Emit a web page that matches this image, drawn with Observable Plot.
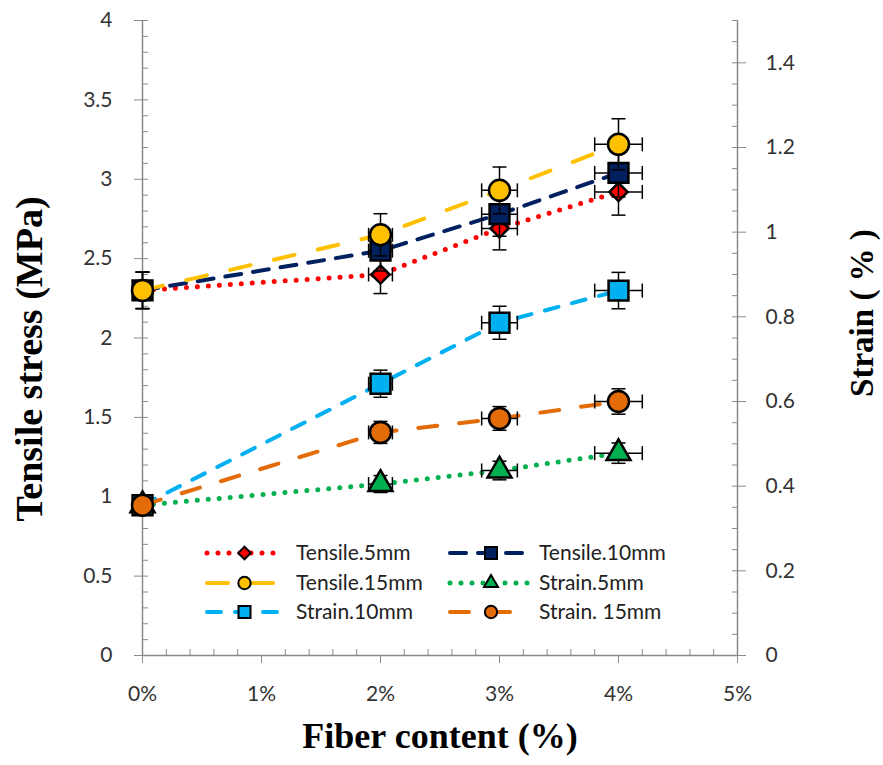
<!DOCTYPE html>
<html><head><meta charset="utf-8">
<script src="https://cdn.jsdelivr.net/npm/d3@7"></script>
<script src="https://cdn.jsdelivr.net/npm/@observablehq/plot@0.6"></script>
<style>body{margin:0;background:#fff;}</style>
</head><body><div id="chart"></div>
<script>
// ---- data ----
const fiber = [0, 2, 3, 4];               // fiber content, %
const fiberErr = [0, 0.1, 0.15, 0.2];     // horizontal error, %
const tensile5  = [2.30, 2.40, 2.69, 2.92];
const tensile10 = [2.30, 2.55, 2.78, 3.04];
const tensile15 = [2.30, 2.65, 2.93, 3.22];
const tensile5Err  = [0.115, 0.12, 0.135, 0.146];
const tensile10Err = [0.115, 0.128, 0.139, 0.152];
const tensile15Err = [0.115, 0.133, 0.147, 0.161];
const strain5  = [0.355, 0.405, 0.437, 0.478];
const strain10 = [0.355, 0.642, 0.786, 0.862];
const strain15 = [0.355, 0.527, 0.560, 0.600];
const strain5Err  = [0.018, 0.02, 0.022, 0.024];
const strain10Err = [0.018, 0.032, 0.039, 0.043];
const strain15Err = [0.018, 0.026, 0.028, 0.030];
const seriesNames = ["Tensile.5mm", "Tensile.10mm", "Tensile.15mm", "Strain.5mm", "Strain.10mm", "Strain. 15mm"];
const xTicks = [0, 1, 2, 3, 4, 5];
const xMinor = [0.2,0.4,0.6,0.8,1.2,1.4,1.6,1.8,2.2,2.4,2.6,2.8,3.2,3.4,3.6,3.8,4.2,4.4,4.6,4.8];
const yTicks = [0, 0.5, 1, 1.5, 2, 2.5, 3, 3.5, 4];
const yMinor = [0.1,0.2,0.3,0.4,0.6,0.7,0.8,0.9,1.1,1.2,1.3,1.4,1.6,1.7,1.8,1.9,2.1,2.2,2.3,2.4,2.6,2.7,2.8,2.9,3.1,3.2,3.3,3.4,3.6,3.7,3.8,3.9];
const strainTicks = [0, 0.2, 0.4, 0.6, 0.8, 1, 1.2, 1.4];
const strainMinor = [0.05,0.1,0.15,0.25,0.3,0.35,0.45,0.5,0.55,0.65,0.7,0.75,0.85,0.9,0.95,1.05,1.1,1.15,1.25,1.3,1.35,1.45,1.5];
const strainMax = 1.5, stressMax = 4;

// ---- styles ----
const styles = [
  {color: "#FF0000", dash: "0 11", width: 5, symbol: "diamond2", r: 8.2, ls: d3.symbolDiamond2, la: 100},
  {color: "#002060", dash: "16 12", width: 4, symbol: "square", r: 11.2, ls: d3.symbolSquare, la: 144},
  {color: "#FFC000", dash: "21 24", width: 4, symbol: "circle", r: 10.5, ls: d3.symbolCircle, la: 120},
  {color: "#00B050", dash: "0 11", width: 5, symbol: "triangle", r: 8.9, ls: d3.symbolTriangle, la: 85},
  {color: "#00B0F0", dash: "14 14", width: 4, symbol: "square", r: 11.2, ls: d3.symbolSquare, la: 144},
  {color: "#E36C09", dash: "19 22", width: 4, symbol: "circle", r: 10.5, ls: d3.symbolCircle, la: 120}
];

const k = stressMax / strainMax;
const seriesData = [
  [tensile5, tensile5Err, 1], [tensile10, tensile10Err, 1], [tensile15, tensile15Err, 1],
  [strain5, strain5Err, k], [strain10, strain10Err, k], [strain15, strain15Err, k]
].map(([vals, errs, f]) => fiber.map((x, i) => ({x, y: vals[i] * f, e: errs[i] * f, ex: fiberErr[i]})));

const hcap = {draw(ctx) { ctx.moveTo(-7, 0); ctx.lineTo(7, 0); }};
const vcap = {draw(ctx) { ctx.moveTo(0, -7); ctx.lineTo(0, 7); }};

const axisColor = "#8a8a8a";
const tickFont = "Lato, 'Open Sans', sans-serif";
const textColor = "#333";
const titleFont = "'Liberation Serif', 'Times New Roman', serif";
const fmt = d3.format("~g");

const marks = [
  Plot.ruleY([0], {stroke: axisColor, strokeWidth: 1.5}),
  Plot.ruleX([0, 5], {y1: 0, y2: stressMax, stroke: axisColor, strokeWidth: 1.5}),
  // x axis
  Plot.axisX({ticks: xTicks, tickSize: 8, tickPadding: 23, tickFormat: d => d + "%", label: null,
    fontSize: 21, fontFamily: tickFont, fill: textColor, stroke: axisColor}),
  Plot.axisX({ticks: xMinor, tickSize: -6, tickFormat: () => "", label: null, stroke: axisColor}),
  // left axis
  Plot.axisY({ticks: yTicks, tickSize: 8, tickPadding: 22, tickFormat: fmt, label: null, fontSize: 21,
    fontFamily: tickFont, fill: textColor, stroke: axisColor}),
  Plot.axisY({ticks: yTicks, tickSize: -6, tickFormat: () => "", label: null, stroke: axisColor}),
  Plot.axisY({ticks: yMinor, tickSize: -6, tickFormat: () => "", label: null, stroke: axisColor}),
  // right axis (strain)
  Plot.axisY({anchor: "right", ticks: strainTicks.map(v => v * k), tickSize: 8, tickPadding: 20,
    tickFormat: v => fmt(+(v / k).toFixed(2)), label: null, fontSize: 21,
    fontFamily: tickFont, fill: textColor, stroke: axisColor}),
  Plot.axisY({anchor: "right", ticks: strainTicks.map(v => v * k), tickSize: -6, tickFormat: () => "", label: null, stroke: axisColor}),
  Plot.axisY({anchor: "right", ticks: strainMinor.map(v => v * k), tickSize: -6, tickFormat: () => "", label: null, stroke: axisColor}),
  // axis titles
  Plot.text(["Tensile stress (MPa)"], {frameAnchor: "left", dx: -113, dy: 21, rotate: -90, fontSize: 38,
    textAnchor: "middle", fontWeight: "bold", fontFamily: titleFont, fill: "#000"}),
  Plot.text(["Fiber content (%)"], {frameAnchor: "bottom", dy: 92, fontSize: 36, textAnchor: "middle",
    fontWeight: "bold", fontFamily: titleFont, fill: "#000"}),
  Plot.text(["Strain ( % )"], {frameAnchor: "right", dx: 125, dy: -25, rotate: -90, fontSize: 33,
    textAnchor: "middle", fontWeight: "bold", fontFamily: titleFont, fill: "#000"})
];

seriesData.forEach((rows, i) => {
  const s = styles[i];
  marks.push(
    Plot.line(rows, {x: "x", y: "y", stroke: s.color, strokeWidth: s.width, strokeDasharray: s.dash, strokeLinecap: "round"}),
    Plot.ruleX(rows, {x: "x", y1: d => d.y - d.e, y2: d => d.y + d.e, stroke: "#000", strokeWidth: 1.5}),
    Plot.dot(rows, {x: "x", y: d => d.y - d.e, symbol: hcap, stroke: "#000", strokeWidth: 1.5, fill: "none"}),
    Plot.dot(rows, {x: "x", y: d => d.y + d.e, symbol: hcap, stroke: "#000", strokeWidth: 1.5, fill: "none"}),
    Plot.ruleY(rows.filter(d => d.ex > 0), {y: "y", x1: d => d.x - d.ex, x2: d => d.x + d.ex, stroke: "#000", strokeWidth: 1.5}),
    Plot.dot(rows.filter(d => d.ex > 0), {x: d => d.x - d.ex, y: "y", symbol: vcap, stroke: "#000", strokeWidth: 1.5, fill: "none"}),
    Plot.dot(rows.filter(d => d.ex > 0), {x: d => d.x + d.ex, y: "y", symbol: vcap, stroke: "#000", strokeWidth: 1.5, fill: "none"}),
    Plot.dot(rows, {x: "x", y: "y", symbol: s.symbol, r: s.r, fill: s.color, stroke: "#000", strokeWidth: 2.5})
  );
});

const chart = Plot.plot({
  width: 883, height: 765,
  marginLeft: 142, marginRight: 146, marginTop: 20, marginBottom: 110,
  x: {domain: [0, 5], label: null},
  y: {domain: [0, stressMax], label: null},
  style: {background: "#fff", fontFamily: tickFont},
  marks
});

// ---- legend ----
const svg = d3.select(chart);
const lg = svg.append("g").attr("text-anchor", "start");
const legendPos = [
  [207, 553], [450, 553],
  [207, 583], [450, 583],
  [207, 612], [450, 612]
];
seriesNames.forEach((name, i) => {
  const s = styles[i];
  const [lx, ly] = legendPos[i];
  const len = i % 2 === 0 ? 75 : 82;
  const g = lg.append("g");
  g.append("line").attr("x1", lx).attr("x2", lx + len).attr("y1", ly).attr("y2", ly)
    .attr("stroke", s.color).attr("stroke-width", s.width).attr("stroke-dasharray", s.dash).attr("stroke-linecap", "round");
  g.append("path").attr("d", d3.symbol(s.ls, s.la)()).attr("transform", `translate(${lx + len / 2},${ly})`)
    .attr("fill", s.color).attr("stroke", "#000").attr("stroke-width", 2);
  g.append("text").attr("x", lx + len + (i % 2 === 0 ? 14 : 7)).attr("y", ly).attr("dy", "0.35em")
    .attr("text-anchor", "start")
    .attr("font-family", tickFont).attr("font-size", 21).attr("fill", "#222").text(name);
});

document.getElementById("chart").appendChild(chart);
</script>
</body></html>
